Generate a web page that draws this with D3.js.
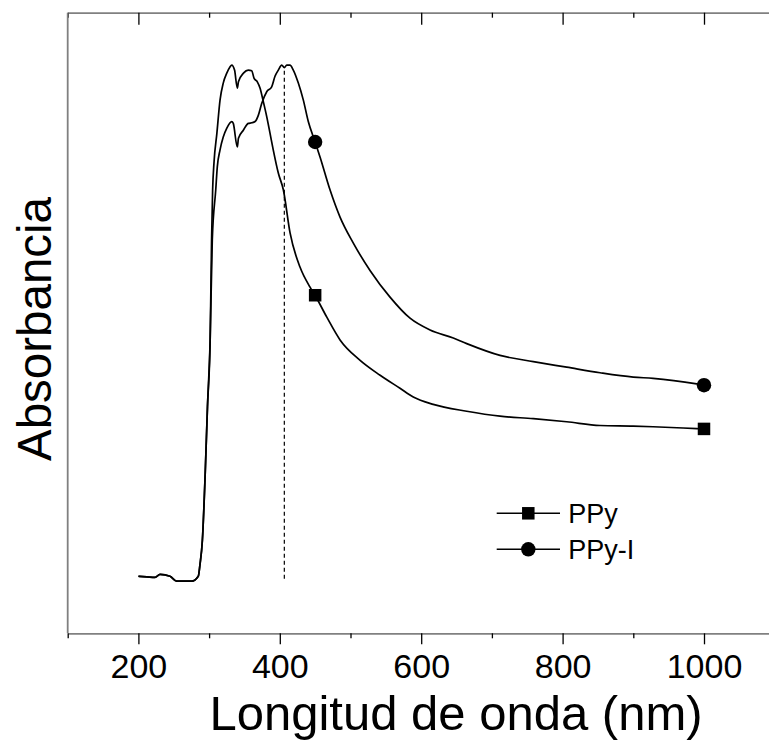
<!DOCTYPE html>
<html>
<head>
<meta charset="utf-8">
<script src="https://cdn.jsdelivr.net/npm/d3@7"></script>
<style>
  body { margin: 0; background: #fff; }
  svg { display: block; font-family: "Liberation Sans", Arial, sans-serif; }
</style>
</head>
<body>
<div id="chart"></div>
<script>
// absorbance spectra, [wavelength nm, absorbance a.u.]
const ppy = [
    [200, 0.092], [212, 0.091], [223.5, 0.090], [230.6, 0.095], [244.7, 0.092],
    [254, 0.084], [265, 0.084], [275.4, 0.084], [284.7, 0.092], [287, 0.110],
    [290.5, 0.150], [294.5, 0.258], [297.7, 0.365], [301.5, 0.473], [303.5, 0.634],
    [305, 0.715], [307, 0.760], [311, 0.806], [315.5, 0.860], [320, 0.887],
    [325, 0.903], [329.5, 0.913], [332, 0.916], [336, 0.908], [339.9, 0.879],
    [341.5, 0.889], [348.6, 0.903], [355.4, 0.908], [360.3, 0.907], [363.5, 0.895],
    [368.2, 0.889], [372, 0.879], [376.7, 0.857], [381.5, 0.833], [386.2, 0.806],
    [390.8, 0.779], [397.9, 0.742], [405, 0.715], [414.6, 0.645], [428.7, 0.590],
    [442.8, 0.558], [449.8, 0.545], [466.3, 0.510], [485.2, 0.473], [513.6, 0.440],
    [541.9, 0.416], [570, 0.395], [588.8, 0.381], [617, 0.369], [664.4, 0.358],
    [711.5, 0.350], [758.6, 0.346], [805.8, 0.341], [853, 0.335], [900, 0.334],
    [928, 0.333], [989.7, 0.330], [1000, 0.3295]
];

const ppyI = [
    [200, 0.092], [212, 0.091], [223.5, 0.090], [230.6, 0.095], [244.7, 0.092],
    [254, 0.084], [265, 0.084], [275.4, 0.084], [284.7, 0.092], [287, 0.110],
    [290.5, 0.150], [294.5, 0.258], [297.7, 0.365], [301.5, 0.473], [304.5, 0.634],
    [309.4, 0.715], [311.6, 0.752], [315.4, 0.779], [320, 0.800], [324.9, 0.814],
    [332, 0.825], [334.2, 0.822], [339.9, 0.784], [341.5, 0.798], [348.4, 0.811],
    [355.4, 0.822], [360.3, 0.823], [365, 0.825], [369.6, 0.835], [374.4, 0.854],
    [381.5, 0.873], [388.5, 0.881], [393.2, 0.898], [397.9, 0.908], [402.7, 0.916],
    [406.4, 0.912], [409.8, 0.916], [414.4, 0.916], [419.1, 0.908], [426.2, 0.887],
    [433.2, 0.860], [440.3, 0.825], [450, 0.792], [456.9, 0.768], [471, 0.715],
    [485.2, 0.671], [504, 0.629], [527.6, 0.585], [555.9, 0.542], [584.2, 0.508],
    [612.5, 0.489], [645.4, 0.476], [664.4, 0.467], [711.5, 0.448], [758.6, 0.438],
    [805.8, 0.429], [853, 0.420], [900, 0.413], [928, 0.411], [989.7, 0.402],
    [1000, 0.400]
];

const ppyMarkers = [[450, 0.545], [1000, 0.3295]];
const ppyIMarkers = [[450, 0.792], [1000, 0.400]];

// dashed line at the PPy-I maximum
const peakNm = 406.4;
const peakRange = [0.088, 0.913];

const majorTicks = [200, 400, 600, 800, 1000];
const minorTicks = [100, 300, 500, 700, 900];

const legendItems = [
    { name: "PPy", symbol: "square" },
    { name: "PPy-I", symbol: "circle" }
];

const width = 769;
const height = 740;
const margin = { top: 12.7, left: 67.7, bottom: 633.3 };

const svg = d3.select("#chart")
    .append("svg")
    .attr("width", width)
    .attr("height", height);

const x = d3.scaleLinear()
    .domain([100, 1100])
    .range([margin.left, 774.7]);

const y = d3.scaleLinear()
    .domain([0, 1])
    .range([margin.bottom, 13]);

// bottom axis
const xAxis = svg.append("g")
    .attr("transform", `translate(0,${margin.bottom})`)
    .call(d3.axisBottom(x)
        .tickValues(majorTicks)
        .tickSize(11)
        .tickSizeOuter(0)
        .tickPadding(10)
        .tickFormat(d3.format("d")));

xAxis.select(".domain").attr("stroke", "#808080").attr("stroke-width", 1.8);
xAxis.selectAll(".tick line").attr("stroke", "#000").attr("stroke-width", 1.3);
xAxis.selectAll(".tick text")
    .attr("fill", "#000")
    .style("font-size", "34px");

svg.append("g")
    .attr("transform", `translate(0,${margin.bottom})`)
    .call(d3.axisBottom(x).tickValues(minorTicks).tickSize(5).tickFormat(""))
    .call(g => g.select(".domain").remove())
    .selectAll(".tick line").attr("stroke", "#000").attr("stroke-width", 1.3);

// top axis, ticks pointing inward
const topAxis = svg.append("g")
    .attr("transform", `translate(0,${margin.top})`)
    .call(d3.axisBottom(x).tickValues(majorTicks).tickSize(12).tickSizeOuter(0).tickFormat(""));
topAxis.select(".domain").attr("stroke", "#808080").attr("stroke-width", 1.8);
topAxis.selectAll(".tick line").attr("stroke", "#000").attr("stroke-width", 1.3);

svg.append("g")
    .attr("transform", `translate(0,${margin.top})`)
    .call(d3.axisBottom(x).tickValues(minorTicks).tickSize(5).tickFormat(""))
    .call(g => g.select(".domain").remove())
    .selectAll(".tick line").attr("stroke", "#000").attr("stroke-width", 1.3);

// left axis line (no ticks)
svg.append("line")
    .attr("x1", margin.left)
    .attr("x2", margin.left)
    .attr("y1", margin.top)
    .attr("y2", margin.bottom)
    .attr("stroke", "#808080")
    .attr("stroke-width", 1.8);

// dashed marker line
svg.append("line")
    .attr("x1", x(peakNm))
    .attr("x2", x(peakNm))
    .attr("y1", y(peakRange[0]))
    .attr("y2", y(peakRange[1]))
    .attr("stroke", "#000")
    .attr("stroke-width", 1.2)
    .attr("stroke-dasharray", "4,3");

const line = d3.line()
    .x(d => x(d[0]))
    .y(d => y(d[1]))
    .curve(d3.curveMonotoneX);

[ppy, ppyI].forEach(series => {
    svg.append("path")
        .datum(series)
        .attr("d", line)
        .attr("fill", "none")
        .attr("stroke", "#000")
        .attr("stroke-width", 1.7)
        .attr("stroke-linejoin", "round");
});

const squareSize = 12.5;
const circleR = 7.2;

svg.selectAll(".sq")
    .data(ppyMarkers)
    .enter()
    .append("rect")
    .attr("x", d => x(d[0]) - squareSize / 2)
    .attr("y", d => y(d[1]) - squareSize / 2)
    .attr("width", squareSize)
    .attr("height", squareSize)
    .attr("fill", "#000");

svg.selectAll(".dot")
    .data(ppyIMarkers)
    .enter()
    .append("circle")
    .attr("cx", d => x(d[0]))
    .attr("cy", d => y(d[1]))
    .attr("r", circleR)
    .attr("fill", "#000");

// legend
const legend = svg.append("g").attr("transform", "translate(496.7,513.3)");

legendItems.forEach((item, i) => {
    const g = legend.append("g").attr("transform", `translate(0,${i * 36})`);
    g.append("line")
        .attr("x1", 0).attr("x2", 63.3)
        .attr("y1", 0).attr("y2", 0)
        .attr("stroke", "#000").attr("stroke-width", 1.5);
    if (item.symbol === "square") {
        g.append("rect")
            .attr("x", 31.6 - squareSize / 2)
            .attr("y", -squareSize / 2)
            .attr("width", squareSize)
            .attr("height", squareSize)
            .attr("fill", "#000");
    } else {
        g.append("circle")
            .attr("cx", 31.6)
            .attr("cy", 0)
            .attr("r", circleR)
            .attr("fill", "#000");
    }
    g.append("text")
        .attr("x", 71.5)
        .attr("y", 9.8)
        .style("font-size", "27px")
        .text(item.name);
});

// axis titles
svg.append("text")
    .attr("x", 456)
    .attr("y", 730)
    .attr("text-anchor", "middle")
    .style("font-size", "49px")
    .text("Longitud de onda (nm)");

svg.append("text")
    .attr("transform", "rotate(-90)")
    .attr("x", -329)
    .attr("y", 50.5)
    .attr("text-anchor", "middle")
    .style("font-size", "47.5px")
    .text("Absorbancia");
</script>
</body>
</html>
